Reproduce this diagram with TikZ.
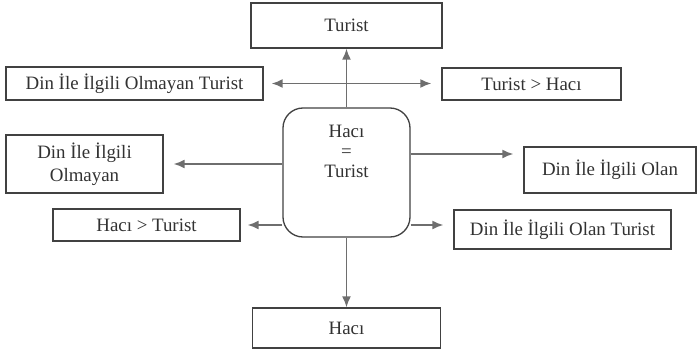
\documentclass[tikz,border=0pt]{standalone}
\usepackage{fontspec}
\setmainfont{Liberation Serif}
\usetikzlibrary{positioning, arrows.meta}
\definecolor{kenar}{RGB}{65,65,65}
\definecolor{ok}{RGB}{110,110,110}
\definecolor{yazi}{RGB}{50,50,50}
\tikzset{>={Latex[length=11pt,width=9pt]},
  kutu/.style={draw=kenar, line width=1.3pt, inner sep=0pt, text=yazi, align=center},
  okcizgi/.style={->, draw=ok, line width=1.7pt}}

\begin{document}
\begin{tikzpicture}[node distance=100pt,on grid,font=\fontsize{18.9}{22}\selectfont]
  \useasboundingbox (-346.5pt,-178.5pt) rectangle (350.5pt,172.5pt);

  \node[kutu, rounded corners=20pt, minimum width=127pt, minimum height=129pt] (esit) {};
  \node[text=yazi, align=center, inner sep=0pt, font=\fontsize{18.9}{20}\selectfont]
    (esitmetin) [above=21pt of esit] {Hacı\\=\\Turist};

  \node[kutu, minimum width=191pt, minimum height=45pt] (turist) [above=147pt of esit] {Turist};
  \node[kutu, minimum width=188pt, minimum height=40pt] (haci) [below=155.5pt of esit] {Hacı};

  \node[kutu, minimum width=257pt, minimum height=33pt] (dolt)
    [above left=89pt and 212pt of esit] {Din İle İlgili Olmayan Turist};
  \node[kutu, minimum width=179pt, minimum height=32pt] (tgh)
    [above right=88.5pt and 185pt of esit] {Turist > Hacı};

  \node[kutu, minimum width=157pt, minimum height=58pt, font=\fontsize{18.9}{23}\selectfont] (dio)
    [above left=8.5pt and 262pt of esit] {Din İle İlgili\\Olmayan};
  \node[kutu, minimum width=172pt, minimum height=46pt] (dil)
    [above right=2.5pt and 263.5pt of esit] {Din İle İlgili Olan};

  \node[kutu, minimum width=187pt, minimum height=32pt] (hgt)
    [below left=52.5pt and 200pt of esit] {Hacı > Turist};
  \node[kutu, minimum width=217pt, minimum height=39pt] (dilt)
    [below right=57pt and 216pt of esit] {Din İle İlgili Olan Turist};

  % oklar
  \draw[okcizgi] (esit.north) -- (esit.north |- turist.south);
  \draw[okcizgi] (esit.south) -- (esit.south |- haci.north);
  \draw[okcizgi, <->, shorten <=8pt, shorten >=10pt] (dolt.east) -- (dolt.east -| tgh.west);

  \draw[okcizgi, shorten >=10pt] (esit.west |- dio.east) -- (dio.east);
  \coordinate (sagust) at ([yshift=18.5pt]esit.east);
  \draw[okcizgi, shorten >=10pt] (sagust) -- (sagust -| dil.west);

  \coordinate (solalt) at ([yshift=-52.5pt]esit.west);
  \draw[okcizgi, shorten >=7pt] (solalt) -- (solalt -| hgt.east);
  \coordinate (sagalt) at ([yshift=-52.5pt]esit.east);
  \draw[okcizgi, shorten >=10pt] (sagalt) -- (sagalt -| dilt.west);

\end{tikzpicture}
\end{document}
